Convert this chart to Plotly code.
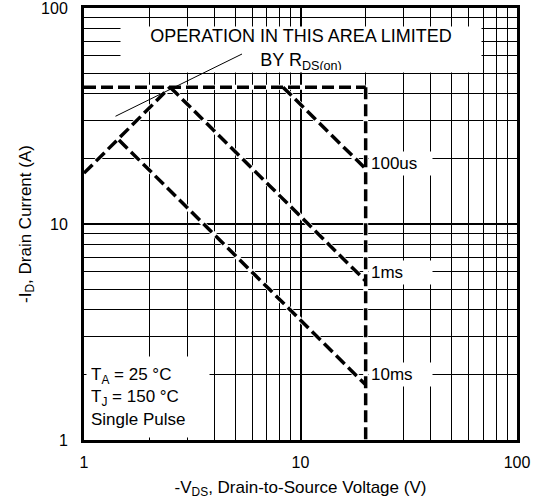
import plotly.graph_objects as go

# ---- data ----
rds_v = [1.0, 2.5]
rds_i = [17.2, 43.0]
limit_v = [1.0, 20.0]
limit_i = [43.0, 43.0]
vmax_v = [20.0, 20.0]
vmax_i = [43.0, 1.0]
us100_v = [8.3, 20.0]
us100_i = [43.0, 18.0]
ms1_v = [2.5, 20.0]
ms1_i = [43.0, 5.45]
ms10_v = [1.45, 20.0]
ms10_i = [24.5, 1.8]

major_ticks = [1, 10, 100]
major_labels = ["1", "10", "100"]
minor_ticks = [2, 3, 4, 5, 6, 7, 8, 9, 20, 30, 40, 50, 60, 70, 80, 90]

FONT = "Liberation Sans, Arial, sans-serif"

fig = go.Figure()
series = [(rds_v, rds_i), (limit_v, limit_i), (vmax_v, vmax_i),
          (us100_v, us100_i), (ms1_v, ms1_i), (ms10_v, ms10_i)]
for xs, ys in series:
    fig.add_trace(go.Scatter(x=xs, y=ys, mode="lines",
                             line=dict(color="white", width=5),
                             hoverinfo="skip", showlegend=False))
for xs, ys in series:
    fig.add_trace(go.Scatter(x=xs, y=ys, mode="lines",
                             line=dict(color="black", width=3.5, dash="12px,5px"),
                             showlegend=False))

axis_common = dict(
    type="log", range=[0, 2], automargin=False,
    tickvals=major_ticks, ticktext=major_labels, ticklabeloverflow="allow",
    showgrid=True, gridcolor="black", gridwidth=2,
    minor=dict(tickvals=minor_ticks, showgrid=True, gridcolor="black", gridwidth=1, ticks=""),
    showline=True, linecolor="black", linewidth=3, mirror=True,
    ticks="", zeroline=False,
    tickfont=dict(family=FONT, size=16, color="black"),
)

fig.update_layout(
    width=543, height=503,
    margin=dict(l=84, r=26, t=8, b=63),
    paper_bgcolor="white", plot_bgcolor="white",
    font=dict(family=FONT, size=16, color="black"),
    xaxis=dict(axis_common,
               title=dict(text="-V<sub>DS</sub>, Drain-to-Source Voltage (V)",
                          font=dict(family=FONT, size=17), standoff=11),
               ticklabelstandoff=6),
    yaxis=dict(axis_common,
               title=dict(text="-I<sub>D</sub>, Drain Current (A)",
                          font=dict(family=FONT, size=17), standoff=6),
               ticklabelstandoff=10),
)

annotations = []
# top box
annotations.append(dict(
    xref="paper", yref="paper", x=0.501, y=0.9086, xanchor="center", yanchor="middle",
    text="OPERATION IN THIS AREA LIMITED<br>BY R<sub>DS(on)</sub>",
    showarrow=False, bgcolor="white", width=356, height=41, borderpad=2, yshift=-2,
    font=dict(family=FONT, size=18, color="black"), align="center"))
# pointer line
annotations.append(dict(
    xref="paper", yref="paper", x=(242 - 84) / 433, y=1 - (54 - 8) / 432,
    ax=114 - 242, ay=117 - 54, text="", showarrow=True, arrowhead=0,
    arrowwidth=1, arrowcolor="black", standoff=0, startstandoff=0))
# time labels
for lab, ypx in [("100us", 163), ("1ms", 272), ("10ms", 374)]:
    annotations.append(dict(
        xref="paper", yref="paper", x=(368 - 84) / 433, y=1 - (ypx - 8) / 432,
        xanchor="left", yanchor="middle", text=lab, showarrow=False,
        bgcolor="white", width=59, height=19, borderpad=2, align="left",
        font=dict(family=FONT, size=17, color="black")))
# conditions box
annotations.append(dict(
    xref="paper", yref="paper", x=(86 - 84) / 433, y=0.004,
    xanchor="left", yanchor="bottom",
    text="T<sub>A</sub> = 25 °C<br>T<sub>J</sub> = 150 °C<br>Single Pulse",
    showarrow=False, bgcolor="white", width=114, height=72, borderpad=4, align="left",
    font=dict(family=FONT, size=17, color="black")))

fig.update_layout(annotations=annotations)
fig.write_html("out.html", config={"displayModeBar": False},
               post_script="document.body.style.margin='0';document.body.style.overflow='hidden';")
